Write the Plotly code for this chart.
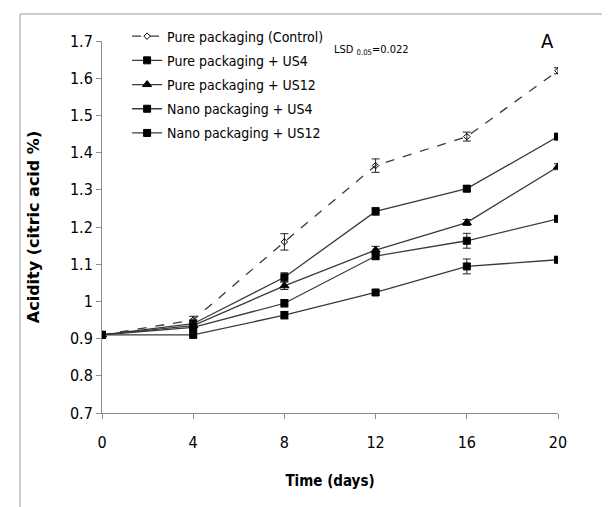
import plotly.graph_objects as go

days = [0, 4, 8, 12, 16, 20]
series_names = [
    "Pure packaging (Control)",
    "Pure packaging + US4",
    "Pure packaging + US12",
    "Nano packaging + US4",
    "Nano packaging + US12",
]
control = [0.91, 0.95, 1.16, 1.365, 1.443, 1.62]
pure_us4 = [0.91, 0.94, 1.065, 1.242, 1.303, 1.443]
pure_us12 = [0.91, 0.935, 1.042, 1.138, 1.212, 1.362]
nano_us4 = [0.91, 0.93, 0.995, 1.122, 1.163, 1.222]
nano_us12 = [0.91, 0.91, 0.963, 1.024, 1.094, 1.112]

err_control = [0.006, 0.01, 0.022, 0.018, 0.012, 0.008]
err_pure_us4 = [0.006, 0.01, 0.012, 0.01, 0.008, 0.008]
err_pure_us12 = [0.006, 0.008, 0.01, 0.01, 0.008, 0.008]
err_nano_us4 = [0.006, 0.008, 0.01, 0.01, 0.02, 0.008]
err_nano_us12 = [0.006, 0.008, 0.01, 0.008, 0.02, 0.008]

y_ticks = [0.7, 0.8, 0.9, 1.0, 1.1, 1.2, 1.3, 1.4, 1.5, 1.6, 1.7]
y_tick_labels = ["0.7", "0.8", "0.9", "1", "1.1", "1.2", "1.3", "1.4", "1.5", "1.6", "1.7"]

values = [control, pure_us4, pure_us12, nano_us4, nano_us12]
errors = [err_control, err_pure_us4, err_pure_us12, err_nano_us4, err_nano_us12]
symbols = ["diamond-open", "square", "triangle-up", "square", "square"]
dashes = ["dash", "solid", "solid", "solid", "solid"]
sizes = [5, 7, 8, 7, 7]

NARROW = "DejaVu Sans Condensed, Liberation Sans Narrow, sans-serif"

fig = go.Figure()
for i, (name, v, e, sym, dsh, sz) in enumerate(zip(series_names, values, errors, symbols, dashes, sizes)):
    fig.add_trace(go.Scatter(
        x=days, y=v, name=name, mode="lines+markers", legendgroup=f"g{i}",
        line=dict(color="#3a3a3a", width=1.3, dash=dsh),
        marker=dict(symbol=sym, size=sz, color="#000000",
                    line=dict(color="#000000", width=1)),
        error_y=dict(type="data", array=e, visible=True, color="#222222",
                     thickness=1, width=4),
    ))

fig.update_layout(
    width=610, height=507,
    margin=dict(l=94, r=60, t=33, b=102),
    paper_bgcolor="white", plot_bgcolor="white",
    font=dict(family=NARROW, color="#000000"),
    showlegend=True,
    legend=dict(x=0.055, y=1.055, xanchor="left", yanchor="top",
                bgcolor="rgba(0,0,0,0)", font=dict(family=NARROW, size=14),
                tracegroupgap=3),
    xaxis=dict(range=[0, 20], tickvals=days, ticktext=[str(d) for d in days],
               showline=True, linecolor="#8c8c8c", linewidth=1,
               ticks="outside", ticklen=5, tickcolor="#8c8c8c",
               showgrid=False, zeroline=False, ticklabelstandoff=10,
               tickfont=dict(family=NARROW, size=16),
               title=dict(text="<b>Time (days)</b>",
                          font=dict(family=NARROW, size=15), standoff=24)),
    yaxis=dict(range=[0.7, 1.7], tickvals=y_ticks, ticktext=y_tick_labels,
               showline=True, linecolor="#8c8c8c", linewidth=1,
               ticks="outside", ticklen=5, tickcolor="#8c8c8c",
               showgrid=False, zeroline=False,
               tickfont=dict(family=NARROW, size=16),
               title=dict(text="<b>Acidity (citric acid %)</b>",
                          font=dict(family="DejaVu Sans, Verdana, sans-serif", size=16),
                          standoff=26)),
    annotations=[
        dict(text="LSD <sub>0.05</sub>=0.022", x=0.505, y=0.975, xref="paper", yref="paper",
             xanchor="left", yanchor="middle", showarrow=False,
             font=dict(family=NARROW, size=11)),
        dict(text="A", x=0.978, y=1.0, xref="paper", yref="paper",
             xanchor="center", yanchor="middle", showarrow=False,
             font=dict(family=NARROW, size=20)),
    ],
    shapes=[
        dict(type="line", xref="paper", yref="paper",
             x0=-82/456, x1=60/456 + 1.0, y0=1 + 27/372, y1=1 + 27/372,
             line=dict(color="#9a9a9a", width=1)),
        dict(type="line", xref="paper", yref="paper",
             x0=-82/456, x1=-82/456, y0=1 + 27/372, y1=-95/372,
             line=dict(color="#9a9a9a", width=1)),
    ],
)

fig.write_html("out.html")
